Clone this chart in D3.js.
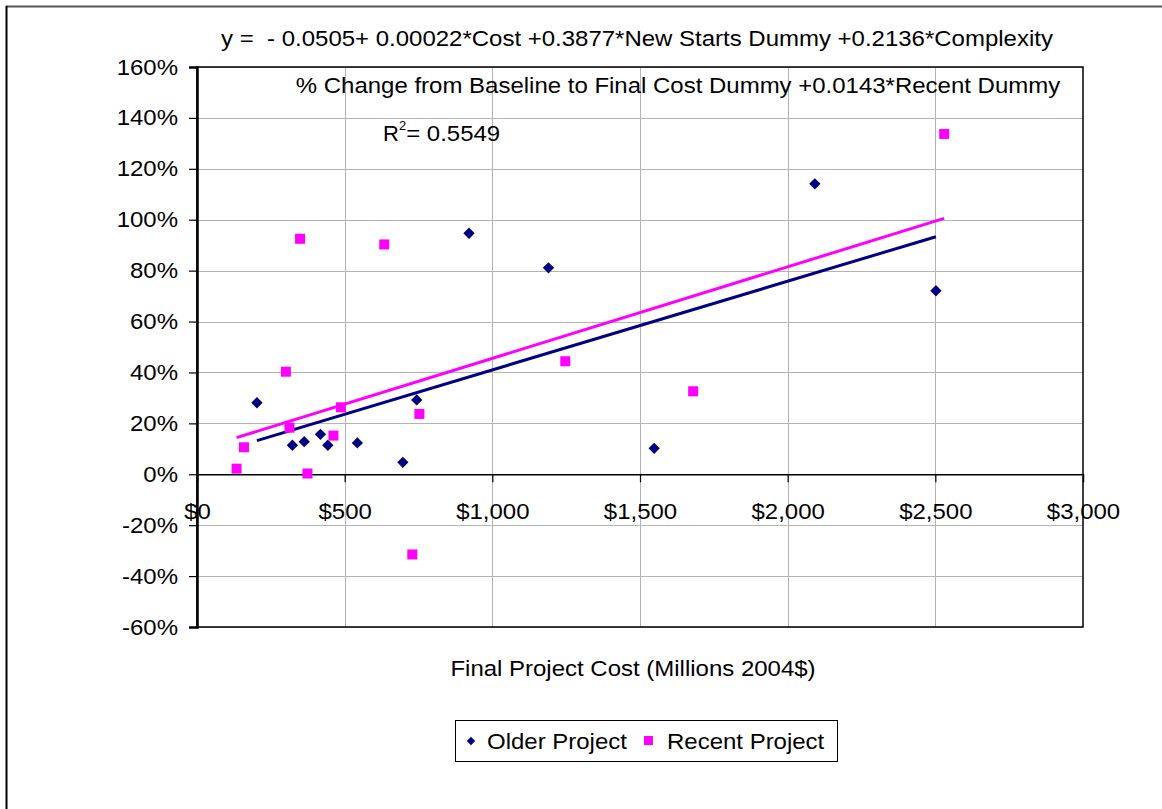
<!DOCTYPE html>
<html>
<head>
<meta charset="utf-8">
<script src="https://cdn.jsdelivr.net/npm/d3@7"></script>
<style>
  html, body { margin: 0; padding: 0; background: #fff; }
  svg { display: block; font-family: "Liberation Sans", Arial, sans-serif; }
  text { white-space: pre; }
</style>
</head>
<body>
<svg id="chart" width="1162" height="809"></svg>
<script>
// Older projects: final cost (millions 2004$) and % change from baseline
const olderCost = [203, 323, 363, 418, 443, 543, 697, 744, 921, 1190, 1548, 2092, 2502];
const olderPct  = [0.281, 0.114, 0.128, 0.157, 0.114, 0.123, 0.047, 0.292, 0.947, 0.811, 0.102, 1.141, 0.721];

// Recent projects
const recentCost = [134, 159, 301, 313, 349, 374, 462, 487, 634, 729, 753, 1247, 1680, 2530];
const recentPct  = [0.022, 0.106, 0.403, 0.183, 0.925, 0.003, 0.152, 0.263, 0.903, -0.315, 0.237, 0.444, 0.326, 1.337];

const xTicks = [0, 500, 1000, 1500, 2000, 2500, 3000];
const yTicks = [-0.6, -0.4, -0.2, 0, 0.2, 0.4, 0.6, 0.8, 1.0, 1.2, 1.4, 1.6];

const equationLine1 = "y =  - 0.0505+ 0.00022*Cost +0.3877*New Starts Dummy +0.2136*Complexity";
const equationLine2 = "% Change from Baseline to Final Cost Dummy +0.0143*Recent Dummy";
const rSquared = "0.5549";
const xTitle = "Final Project Cost (Millions 2004$)";
const seriesNames = ["Older Project", "Recent Project"];

const NAVY = "#000080", MAGENTA = "#ff00ff";
const FONT = 22;
const WIDE = 1.09; // the chart's lettering is set slightly wide

const svg = d3.select("#chart");
const plot = { left: 197, right: 1083, top: 67, bottom: 627 };

const x = d3.scaleLinear().domain([0, 3000]).range([plot.left, plot.right]);
const y = d3.scaleLinear().domain([-0.6, 1.6]).range([plot.bottom, plot.top]);

// outer chart frame (continues past the window edge)
svg.append("line").attr("x1", 6).attr("x2", 1162).attr("y1", 6.5).attr("y2", 6.5)
  .attr("stroke", "#555").attr("stroke-width", 2);
svg.append("line").attr("x1", 6.5).attr("x2", 6.5).attr("y1", 6).attr("y2", 809)
  .attr("stroke", "#000").attr("stroke-width", 2);

// gridlines
const grid = svg.append("g").attr("stroke", "#b4b4b4").attr("stroke-width", 1);
grid.selectAll("line.h").data(yTicks).join("line")
  .attr("x1", plot.left).attr("x2", plot.right)
  .attr("y1", d => Math.round(y(d)) + 0.5).attr("y2", d => Math.round(y(d)) + 0.5);
grid.selectAll("line.v").data(xTicks.slice(1, -1)).join("line")
  .attr("y1", plot.top).attr("y2", plot.bottom)
  .attr("x1", d => Math.round(x(d)) + 0.5).attr("x2", d => Math.round(x(d)) + 0.5);

// plot area border
svg.append("rect")
  .attr("x", plot.left).attr("y", plot.top)
  .attr("width", plot.right - plot.left).attr("height", plot.bottom - plot.top)
  .attr("fill", "none").attr("stroke", "#000").attr("stroke-width", 1.5);

// y axis
const yAxis = svg.append("g").attr("transform", `translate(${plot.left},0)`)
  .call(d3.axisLeft(y).tickValues(yTicks).tickSize(8).tickPadding(11)
    .tickFormat(d => Math.round(d * 100) + "%"));
yAxis.select(".domain").attr("stroke", "#000").attr("stroke-width", 2.5);
yAxis.selectAll(".tick line").attr("stroke", "#000").attr("stroke-width", 1.2);
yAxis.selectAll(".tick text").attr("font-size", FONT).attr("fill", "#000")
  .attr("font-family", "'Liberation Sans', Arial, sans-serif");

// x axis crossing at 0%
const xAxis = svg.append("g").attr("transform", `translate(0,${y(0)})`)
  .call(d3.axisBottom(x).tickValues(xTicks).tickSize(8).tickPadding(21)
    .tickFormat(d => "$" + d3.format(",")(d)));
xAxis.select(".domain").attr("stroke", "#000").attr("stroke-width", 1.3);
xAxis.selectAll(".tick line").attr("stroke", "#000").attr("stroke-width", 1.2);
xAxis.selectAll(".tick text").attr("font-size", FONT).attr("fill", "#000")
  .attr("font-family", "'Liberation Sans', Arial, sans-serif");

// least-squares trend line through a series, spanning its cost range
function trend(xs, ys) {
  const mx = d3.mean(xs), my = d3.mean(ys);
  const sxy = d3.sum(xs, (v, i) => (v - mx) * (ys[i] - my));
  const sxx = d3.sum(xs, v => (v - mx) * (v - mx));
  const b = sxy / sxx, a = my - b * mx;
  const [lo, hi] = d3.extent(xs);
  return [[lo, a + b * lo], [hi, a + b * hi]];
}
const line = d3.line().x(d => x(d[0])).y(d => y(d[1]));
svg.append("path").attr("d", line(trend(recentCost, recentPct)))
  .attr("stroke", MAGENTA).attr("stroke-width", 3).attr("fill", "none");
svg.append("path").attr("d", line(trend(olderCost, olderPct)))
  .attr("stroke", NAVY).attr("stroke-width", 3).attr("fill", "none");

// markers
const diamond = d3.symbol().type(d3.symbolSquare).size(64);
const olderData = olderCost.map((c, i) => [c, olderPct[i]]);
const recentData = recentCost.map((c, i) => [c, recentPct[i]]);

svg.append("g").selectAll("path").data(olderData).join("path")
  .attr("d", diamond)
  .attr("transform", d => `translate(${x(d[0])},${y(d[1])}) rotate(45)`)
  .attr("fill", NAVY);

svg.append("g").selectAll("rect").data(recentData).join("rect")
  .attr("x", d => x(d[0]) - 5).attr("y", d => y(d[1]) - 5)
  .attr("width", 10).attr("height", 10)
  .attr("fill", MAGENTA);

// equation text
svg.append("text").attr("x", 637).attr("y", 46).attr("text-anchor", "middle")
  .attr("font-size", FONT).attr("fill", "#000").text(equationLine1);
svg.append("text").attr("x", 678).attr("y", 93).attr("text-anchor", "middle")
  .attr("font-size", FONT).attr("fill", "#000").text(equationLine2);
const r2 = svg.append("text").attr("x", 383).attr("y", 141).attr("font-size", FONT).attr("fill", "#000");
r2.append("tspan").text("R");
r2.append("tspan").attr("dx", 0).attr("dy", -11).attr("font-size", 13).text("2");
r2.append("tspan").attr("class", "wide").attr("dx", 0).attr("dy", 11).text("= " + rSquared);

// x axis title
svg.append("text").attr("x", 633).attr("y", 676).attr("text-anchor", "middle")
  .attr("font-size", FONT).attr("fill", "#000").text(xTitle);

// legend
const lg = svg.append("g");
lg.append("rect").attr("x", 455.5).attr("y", 720.5).attr("width", 382).attr("height", 41)
  .attr("fill", "#fff").attr("stroke", "#000").attr("stroke-width", 1);
lg.append("path").attr("d", d3.symbol().type(d3.symbolSquare).size(36))
  .attr("transform", "translate(471,741) rotate(45)").attr("fill", NAVY);
lg.append("text").attr("x", 487).attr("y", 749).attr("font-size", FONT).attr("fill", "#000").text(seriesNames[0]);
lg.append("rect").attr("x", 644).attr("y", 736).attr("width", 9).attr("height", 9).attr("fill", MAGENTA);
lg.append("text").attr("x", 667).attr("y", 749).attr("font-size", FONT).attr("fill", "#000").text(seriesNames[1]);

// widen plain texts and the R-squared value
svg.selectAll("text").each(function () {
  if (this.querySelector("tspan")) return;
  const w = this.getComputedTextLength();
  d3.select(this).attr("textLength", w * WIDE).attr("lengthAdjust", "spacingAndGlyphs");
});
svg.selectAll("tspan.wide").each(function () {
  const w = this.getComputedTextLength();
  d3.select(this).attr("textLength", w * WIDE).attr("lengthAdjust", "spacingAndGlyphs");
});
</script>
</body>
</html>
